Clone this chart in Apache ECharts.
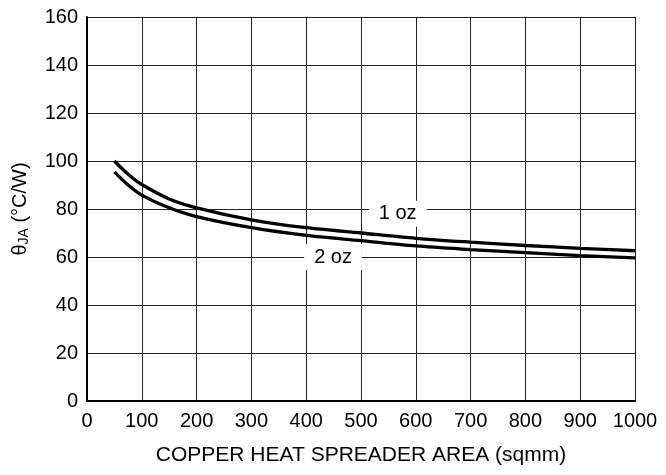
<!DOCTYPE html>
<html>
<head>
<meta charset="utf-8">
<script src="https://cdn.jsdelivr.net/npm/echarts@6/dist/echarts.min.js"></script>
<style>html,body{margin:0;padding:0;background:#fff}#c{width:666px;height:475px}</style>
</head>
<body>
<div id="c"></div>
<script>
const areas = [50, 75, 100, 150, 200, 300, 400, 500, 600, 700, 800, 900, 1000];
const oz1 = [100, 94.5, 90.2, 84.2, 80.5, 75.5, 72.2, 70, 67.8, 66.2, 64.8, 63.6, 62.6];
const oz2 = [95.5, 90, 85.8, 80.5, 76.8, 72.2, 69, 66.8, 64.6, 63.1, 61.8, 60.6, 59.6];
const seriesNames = ['1 oz', '2 oz'];
const labelPos1 = [567, 78];
const labelPos2 = [449, 60];

const FONT = 'Liberation Sans';
const chart = echarts.init(document.getElementById('c'));
function pts(ys) { return areas.map((x, i) => [x, ys[i]]); }
function lbl(name, pos) {
  return {
    symbol: 'rect', symbolSize: 0,
    data: [{ coord: pos, value: name }],
    label: { show: true, position: 'inside', formatter: name, color: '#000', fontSize: 20,
      fontFamily: FONT, backgroundColor: '#fff', padding: [3, 10] }
  };
}
chart.setOption({
  animation: false,
  grid: { left: 87, top: 17, right: 31, bottom: 74 },
  xAxis: {
    type: 'value', min: 0, max: 1000, interval: 100,
    name: 'COPPER HEAT SPREADER AREA (sqmm)', nameLocation: 'middle', nameGap: 44,
    nameTextStyle: { fontSize: 21, color: '#000', fontFamily: FONT },
    axisLine: { show: true, lineStyle: { color: '#000', width: 2 } },
    axisTick: { show: false },
    axisLabel: { fontSize: 20, color: '#000', fontFamily: FONT, margin: 10, formatter: v => String(v) },
    splitLine: { show: true, lineStyle: { color: '#222', width: 1 } }
  },
  yAxis: {
    type: 'value', min: 0, max: 160, interval: 20,
    name: '{a|θ}{b|JA}{a| (°C/W)}', nameLocation: 'middle', nameGap: 56,
    nameTextStyle: { color: '#000', fontFamily: FONT,
      rich: { a: { fontSize: 20, fontFamily: FONT, color: '#000' },
              b: { fontSize: 14, fontFamily: FONT, color: '#000', verticalAlign: 'bottom', padding: [8, 0, 0, 0] } } },
    axisLine: { show: true, lineStyle: { color: '#000', width: 2 } },
    axisTick: { show: false },
    axisLabel: { fontSize: 20, color: '#000', fontFamily: FONT, margin: 9 },
    splitLine: { show: true, lineStyle: { color: '#222', width: 1 } }
  },
  series: [
    { name: seriesNames[0], type: 'line', data: pts(oz1), smooth: 0.3, showSymbol: false,
      lineStyle: { color: '#000', width: 3.3 }, markPoint: lbl(seriesNames[0], labelPos1) },
    { name: seriesNames[1], type: 'line', data: pts(oz2), smooth: 0.3, showSymbol: false,
      lineStyle: { color: '#000', width: 3.3 }, markPoint: lbl(seriesNames[1], labelPos2) }
  ]
});
</script>
</body>
</html>
